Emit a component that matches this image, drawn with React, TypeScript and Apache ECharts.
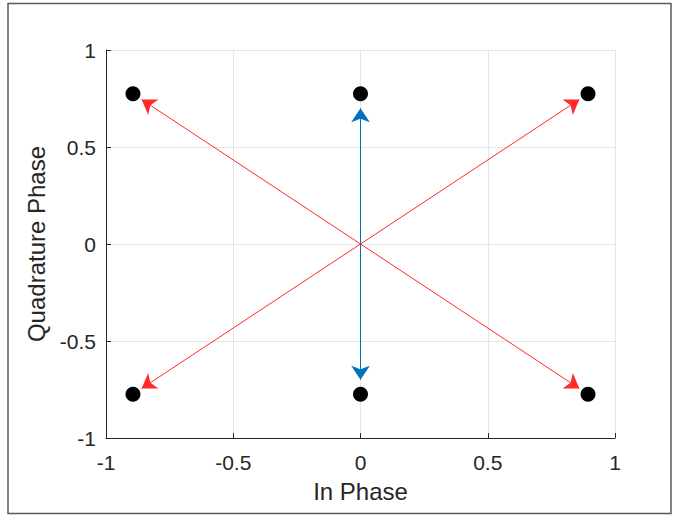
import React, { useEffect, useRef } from "react";
import * as echarts from "echarts";

// Constellation points (In Phase, Quadrature Phase)
const pointI = [-0.894, 0, 0.894, -0.894, 0, 0.894];
const pointQ = [0.775, 0.775, 0.775, -0.775, -0.775, -0.775];

// Transition arrows drawn from the origin
const redArrowI = [-0.86, 0.86, -0.86, 0.86];
const redArrowQ = [0.745, 0.745, -0.745, -0.745];
const blueArrowI = [0, 0];
const blueArrowQ = [0.7, -0.7];

const axisTicks = [-1, -0.5, 0, 0.5, 1];

const FONT = "'Liberation Sans', Arial, Helvetica, sans-serif";
const INK = "#262626";

export default function App() {
  const ref = useRef<HTMLDivElement>(null);

  useEffect(() => {
    if (!ref.current) return;
    const chart = echarts.init(ref.current, undefined, { renderer: "svg" });

    const scatterData = pointI.map((x, i) => [x, pointQ[i]]);
    const arrowLines = (us: number[], vs: number[]) =>
      us.map((u, i) => ({ coords: [[0, 0], [u, vs[i]]] }));

    const axisCommon = {
      type: "value" as const,
      min: axisTicks[0],
      max: axisTicks[axisTicks.length - 1],
      interval: 0.5,
      axisLine: { show: true, onZero: false, lineStyle: { color: INK, width: 1 } },
      axisTick: { show: true, inside: true, length: 5, lineStyle: { color: INK } },
      axisLabel: {
        color: INK,
        fontFamily: FONT,
        fontSize: 21,
        formatter: (v: number) => String(v),
      },
      splitLine: { show: true, lineStyle: { color: "#e6e6e6", width: 1 } },
      nameTextStyle: { color: INK, fontFamily: FONT, fontSize: 24 },
    };

    chart.setOption({
      animation: false,
      backgroundColor: "#ffffff",
      grid: { left: 106, top: 50, right: 60, bottom: 78, containLabel: false },
      graphic: [
        {
          type: "rect",
          shape: { x: 8, y: 3.5, width: 663, height: 510 },
          style: { fill: "none", stroke: "#5a5a5a", lineWidth: 1.5 },
          silent: true,
          z: -10,
        },
      ],
      xAxis: {
        ...axisCommon,
        name: "In Phase",
        nameLocation: "middle",
        nameGap: 41,
        axisLabel: { ...axisCommon.axisLabel, margin: 14 },
      },
      yAxis: {
        ...axisCommon,
        name: "Quadrature Phase",
        nameLocation: "middle",
        nameGap: 53,
        axisLabel: { ...axisCommon.axisLabel, margin: 10 },
      },
      series: [
        {
          type: "lines",
          coordinateSystem: "cartesian2d",
          data: arrowLines(redArrowI, redArrowQ),
          symbol: ["none", "arrow"],
          symbolSize: [10, 14],
          lineStyle: { color: "#ff2a2a", width: 1, opacity: 1 },
          itemStyle: { color: "#ff2a2a" },
          z: 2,
        },
        {
          type: "lines",
          coordinateSystem: "cartesian2d",
          data: arrowLines(blueArrowI, blueArrowQ),
          symbol: ["none", "arrow"],
          symbolSize: [10, 14],
          lineStyle: { color: "#0072bd", width: 1, opacity: 1 },
          itemStyle: { color: "#0072bd" },
          z: 2,
        },
        {
          type: "scatter",
          data: scatterData,
          symbol: "circle",
          symbolSize: 15,
          itemStyle: { color: "#000000", opacity: 1 },
          z: 3,
        },
      ],
    });

    return () => chart.dispose();
  }, []);

  return (
    <div
      ref={ref}
      style={{ position: "fixed", left: 0, top: 0, width: 675, height: 516 }}
    />
  );
}
